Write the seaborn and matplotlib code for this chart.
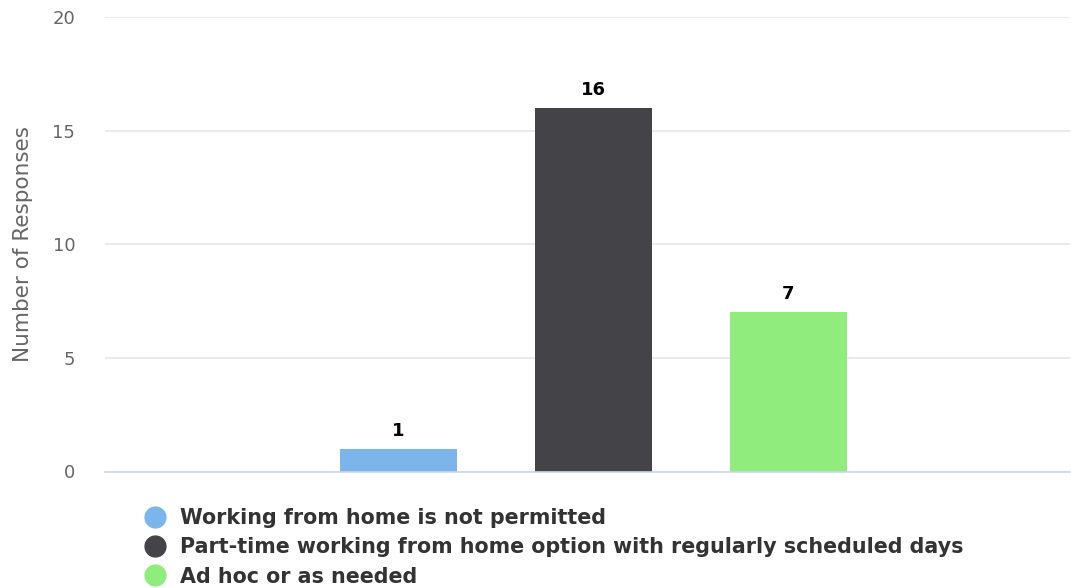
import matplotlib
matplotlib.use("Agg")
import matplotlib.pyplot as plt
from matplotlib.lines import Line2D
import seaborn as sns
import pandas as pd

categories = [
    "Working from home is not permitted",
    "Part-time working from home option with regularly scheduled days",
    "Ad hoc or as needed",
]
values = [1, 16, 7]
colors = ["#7cb5ec", "#434348", "#90ed7d"]
yticks = [0, 5, 10, 15, 20]
ylabel = "Number of Responses"

sns.set_theme(style="white")
plt.rcParams["font.family"] = ["DejaVu Sans"]

df = pd.DataFrame({"category": categories, "value": values})

fig = plt.figure(figsize=(10.71, 5.88), dpi=100)
ax = fig.add_axes([105 / 1071, 1 - 471.5 / 588, (1070 - 105) / 1071, (471.5 - 17) / 588])

sns.barplot(data=df, x="category", y="value", hue="category", palette=colors,
            order=categories, hue_order=categories, width=0.6, dodge=False,
            legend=False, ax=ax, saturation=1, linewidth=0)

ax.set_xlim(-1.506, 3.444)
ax.set_ylim(0, 20)
ax.set_yticks(yticks)
ax.set_yticklabels([str(t) for t in yticks], color="#666666", fontsize=13)
ax.tick_params(axis="y", length=0, pad=21.5)
ax.set_xticks([])
ax.set_xlabel("")
ax.set_ylabel(ylabel, color="#666666", fontsize=15.5, labelpad=14)
for s in ["top", "right", "left"]:
    ax.spines[s].set_visible(False)
ax.spines["bottom"].set_color("#ccd6eb")
ax.spines["bottom"].set_linewidth(1.2)
ax.grid(axis="y", color="#e6e6e6", linewidth=1.2)
ax.set_axisbelow(True)

for container in ax.containers:
    ax.bar_label(container, fmt="%d", padding=6.5, fontsize=13, fontweight="bold", color="#000000")

handles = [Line2D([0], [0], marker="o", color="none", markerfacecolor=c,
                  markeredgecolor=c, markersize=15) for c in colors]
fig.legend(handles, categories, loc="upper left", bbox_to_anchor=(145 / 1071, 1 - 508 / 588),
           frameon=False, prop={"weight": "bold", "size": 14.9},
           labelspacing=0.45, handletextpad=0.68, handlelength=1.0, borderaxespad=0, borderpad=0,
           labelcolor="#333333")

fig.savefig("out.png", dpi=100)
